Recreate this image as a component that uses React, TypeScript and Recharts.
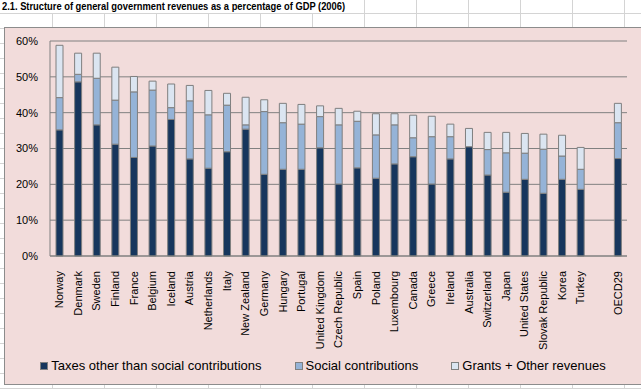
import { Bar, BarChart, CartesianGrid, Legend, XAxis, YAxis } from "recharts";

const countries = [
  "Norway", "Denmark", "Sweden", "Finland", "France", "Belgium", "Iceland", "Austria",
  "Netherlands", "Italy", "New Zealand", "Germany", "Hungary", "Portugal", "United Kingdom",
  "Czech Republic", "Spain", "Poland", "Luxembourg", "Canada", "Greece", "Ireland",
  "Australia", "Switzerland", "Japan", "United States", "Slovak Republic", "Korea", "Turkey",
  "", "OECD29",
];

const taxes = [
  35.2, 48.6, 36.6, 31.2, 27.5, 30.7, 38.1, 27.1, 24.5, 29.1, 35.4, 22.8, 24.2, 24.2, 30.2,
  20.1, 24.6, 21.7, 25.7, 27.7, 20.1, 27.1, 30.5, 22.6, 17.8, 21.4, 17.5, 21.4, 18.6, null, 27.2,
];

const social = [
  9.0, 2.1, 13.0, 12.3, 18.3, 15.6, 3.3, 16.2, 14.9, 13.0, 1.2, 17.5, 13.0, 12.6, 8.7,
  16.5, 13.0, 12.1, 10.9, 5.3, 13.2, 6.2, 0, 7.1, 11.0, 7.3, 12.3, 6.5, 5.6, null, 10.0,
];

const grants = [
  14.6, 5.9, 7.0, 9.2, 4.3, 2.5, 6.6, 4.3, 6.8, 3.3, 7.7, 3.3, 5.4, 5.5, 3.0,
  4.6, 2.8, 5.9, 3.1, 6.3, 5.7, 3.5, 5.1, 4.8, 5.7, 5.5, 4.2, 5.8, 6.1, null, 5.4,
];

const yTicks = [0, 10, 20, 30, 40, 50, 60];

const series = [
  { key: "taxes", name: "Taxes other than social contributions", color: "#17365d" },
  { key: "social", name: "Social contributions", color: "#95b3d7" },
  { key: "grants", name: "Grants + Other revenues", color: "#dbe5f1" },
];

const data = countries.map((country, i) => ({
  country,
  taxes: taxes[i],
  social: social[i],
  grants: grants[i],
}));

const FONT = "Arial, 'Liberation Sans', sans-serif";

const CountryTick = ({ x, y, payload }: any) => (
  <text
    transform={`translate(${x},${y + 7}) rotate(-90)`}
    textAnchor="end"
    dy="0.35em"
    fontSize={11}
    fontFamily={FONT}
    fill="#000"
  >
    {payload.value}
  </text>
);

const LegendBox = () => (
  <div style={{ display: "flex", justifyContent: "center", gap: 33, fontFamily: FONT, fontSize: 13, color: "#000" }}>
    {series.map((s) => (
      <span key={s.key} style={{ display: "flex", alignItems: "center" }}>
        <span style={{ width: 6, height: 6, background: s.color, border: "1px solid #808080", marginRight: 3 }} />
        {s.name}
      </span>
    ))}
  </div>
);

// excel cell grid behind the chart
const rowLines = Array.from({ length: 26 }, (_, i) => 13 + i * 15);
const colLines = Array.from({ length: 12 }, (_, i) => 52 + i * 52);

const App = () => {
  return (
    <div style={{ position: "fixed", left: 0, top: 0, width: 641, height: 389, background: "#fff", overflow: "hidden" }}>
      {rowLines.map((y) => (
        <div key={"r" + y} style={{ position: "absolute", left: 0, top: y, width: 641, height: 1, background: "#d4d4d4" }} />
      ))}
      {colLines.map((x) => (
        <div key={"c" + x} style={{ position: "absolute", left: x, top: x < 364 ? 13 : 0, width: 1, height: 389, background: "#d4d4d4" }} />
      ))}
      <div style={{ position: "absolute", left: 0, top: 0, width: 360, height: 13, background: "#fff" }} />
      <svg width={360} height={17} style={{ position: "absolute", left: 0, top: 0 }}>
        <text x={2} y={10} fontFamily={FONT} fontWeight="bold" fontSize={10.5} textLength={343} lengthAdjust="spacingAndGlyphs" fill="#000">
          2.1. Structure of general government revenues as a percentage of GDP (2006)
        </text>
      </svg>
      <div style={{ position: "absolute", left: 4, top: 27, width: 645, height: 358, background: "#f2dcdb", border: "1px solid #8c8c8c", boxSizing: "border-box" }}>
        <BarChart
          width={636}
          height={356}
          data={data}
          margin={{ top: 13, right: 14, left: 0, bottom: 0 }}
          barCategoryGap="0%"
        >
          <CartesianGrid vertical={false} stroke="#808080" />
          <XAxis
            dataKey="country"
            interval={0}
            height={128}
            tick={<CountryTick />}
            tickLine={false}
            axisLine={{ stroke: "#808080" }}
          />
          <YAxis
            domain={[0, 60]}
            ticks={yTicks}
            width={45}
            tickFormatter={(v: number) => `${v}%`}
            tick={{ fontSize: 11, fontFamily: FONT, fill: "#000" }}
            tickLine={false}
            tickMargin={6}
            axisLine={{ stroke: "#808080" }}
          />
          <YAxis yAxisId="right" orientation="right" width={0} tick={false} tickLine={false} axisLine={{ stroke: "#808080" }} />
          <Legend
            layout="horizontal"
            verticalAlign="middle"
            align="center"
            wrapperStyle={{ top: 330, left: 0, width: 636 }}
            content={<LegendBox />}
          />
          {series.map((s) => (
            <Bar
              key={s.key}
              dataKey={s.key}
              name={s.name}
              stackId="a"
              fill={s.color}
              stroke="#7f7f7f"
              strokeWidth={1}
              barSize={7}
              isAnimationActive={false}
            />
          ))}
        </BarChart>
      </div>
    </div>
  );
};

export default App;
